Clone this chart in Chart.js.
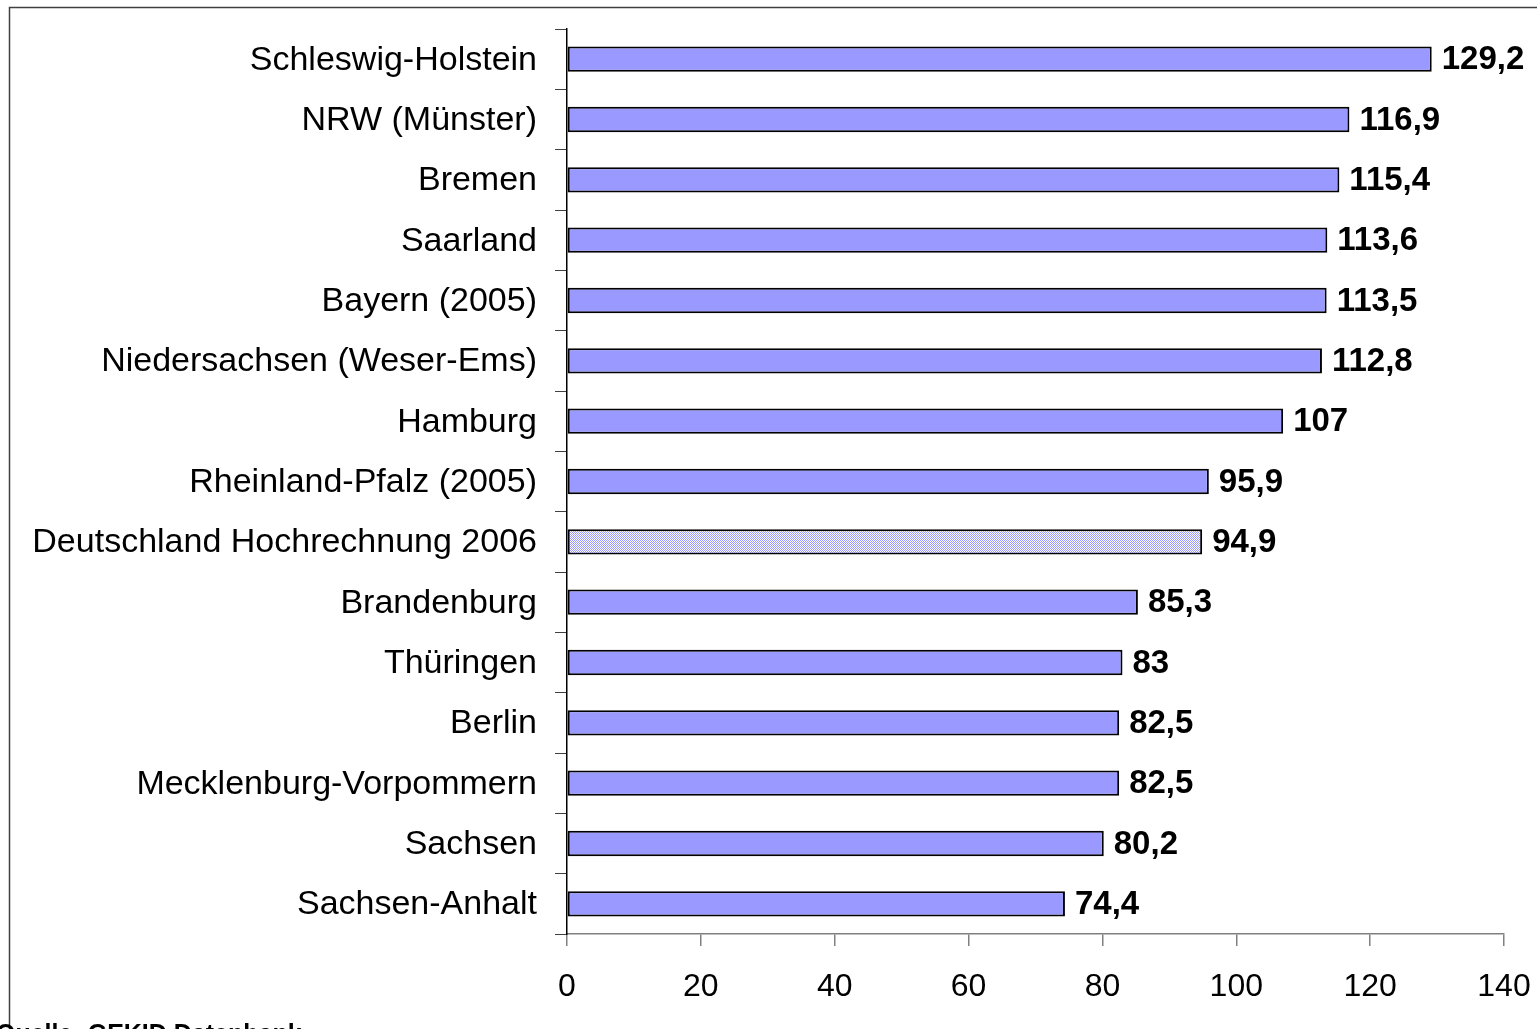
<!DOCTYPE html>
<html><head><meta charset="utf-8">
<script src="https://cdn.jsdelivr.net/npm/chart.js@4/dist/chart.umd.min.js"></script>
<style>html,body{margin:0;padding:0;background:#fff;overflow:hidden}#w{width:1537px;height:1029px;position:relative}</style>
</head><body><div id="w"><canvas id="c" width="1537" height="1029"></canvas></div>
<script>
const categories = ["Schleswig-Holstein","NRW (Münster)","Bremen","Saarland","Bayern (2005)","Niedersachsen (Weser-Ems)","Hamburg","Rheinland-Pfalz (2005)","Deutschland Hochrechnung 2006","Brandenburg","Thüringen","Berlin","Mecklenburg-Vorpommern","Sachsen","Sachsen-Anhalt"];
const values = [129.2,116.9,115.4,113.6,113.5,112.8,107,95.9,94.9,85.3,83,82.5,82.5,80.2,74.4];
const valueLabels = ["129,2","116,9","115,4","113,6","113,5","112,8","107","95,9","94,9","85,3","83","82,5","82,5","80,2","74,4"];
const xTicks = [0,20,40,60,80,100,120,140];
const highlightIndex = 8;
const sourceNote = "Quelle: GEKID Datenbank";

const pc = document.createElement('canvas'); pc.width = 2; pc.height = 2;
const px = pc.getContext('2d');
px.fillStyle = '#ffffff'; px.fillRect(0,0,2,2);
px.fillStyle = '#9999ff'; px.fillRect(0,0,1,1); px.fillRect(1,1,1,1);
const pattern = px.createPattern(pc,'repeat');

const bg = values.map((v,i)=> i===highlightIndex ? pattern : '#9999ff');

const FONT = "Arial, 'Liberation Sans', sans-serif";

const framePlugin = {
  id:'frame',
  afterDraw(chart){
    const ctx = chart.ctx;
    ctx.save();
    ctx.strokeStyle = '#404040'; ctx.lineWidth = 1.5;
    ctx.beginPath(); ctx.moveTo(9.5,1029); ctx.lineTo(9.5,7.5); ctx.lineTo(1537,7.5); ctx.stroke();
    const meta = chart.getDatasetMeta(0);
    ctx.fillStyle = '#000'; ctx.font = "bold 33px " + FONT; ctx.textBaseline = 'middle'; ctx.textAlign = 'left';
    meta.data.forEach((el,i)=>{ ctx.fillText(valueLabels[i], el.x + 10, el.y + 1); });
    ctx.font = "bold 25px " + FONT; ctx.textBaseline = 'alphabetic';
    ctx.fillText(sourceNote, -4, 1042);
    ctx.restore();
  }
};

new Chart(document.getElementById('c'), {
  type:'bar',
  data:{ labels: categories, datasets:[{ data: values, backgroundColor: bg, borderColor:'#000', borderWidth:2, borderSkipped:false, categoryPercentage:0.42, barPercentage:1 }]},
  options:{
    indexAxis:'y', responsive:false, animation:false, devicePixelRatio:1,
    layout:{ padding:{ top:29, right:33, left:0, bottom:0 } },
    plugins:{ legend:{display:false}, tooltip:{enabled:false} },
    scales:{
      x:{ type:'linear', min:0, max:140, afterBuildTicks(s){ s.ticks = xTicks.map(v=>({value:v})); },
        grid:{ drawOnChartArea:false, drawTicks:true, tickLength:12, color:'#808080', lineWidth:1.5 },
        border:{ color:'#808080', width:1.5 },
        ticks:{ color:'#000', font:{ family:FONT, size:32 }, padding:22, maxRotation:0 },
        afterFit(s){ s.height = 95; s.paddingLeft = 0; s.paddingRight = 0; } },
      y:{ grid:{ drawOnChartArea:false, drawTicks:true, tickLength:12, color:'#404040', lineWidth:1, offset:true },
        border:{ color:'#000', width:1.5 },
        ticks:{ color:'#000', font:{ family:FONT, size:34 }, padding:18, autoSkip:false, labelOffset:1 },
        afterFit(s){ s.width = 567; s.paddingTop = 0; s.paddingBottom = 0; } }
    }
  },
  plugins:[framePlugin]
});
</script></body></html>
